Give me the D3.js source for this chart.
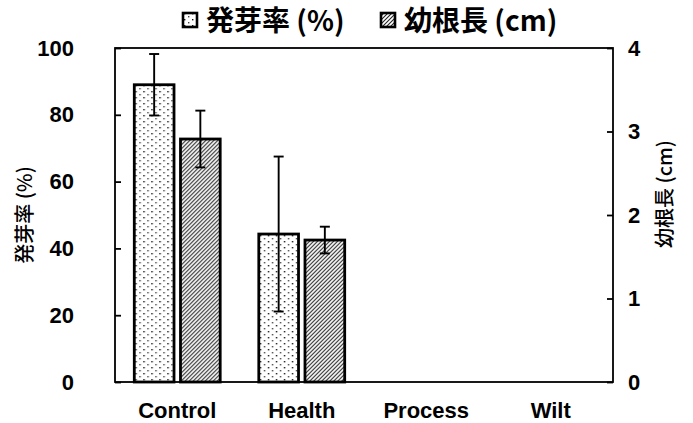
<!DOCTYPE html>
<html lang="ja">
<head>
    <meta charset="UTF-8">
    <script src="https://cdn.jsdelivr.net/npm/d3@7"></script>
    <title>発芽率と幼根長</title>
    <style>
        body { margin: 0; background: white; }
        text { font-family: "Liberation Sans", Arial, sans-serif; }
        .jp { font-family: "Noto Sans CJK JP", "Noto Sans", sans-serif; }
    </style>
</head>
<body>
    <div id="chart"></div>
    <script>
        // data
        const categories = ["Control", "Health", "Process", "Wilt"];
        const germRate = [89, 44.3, 0, 0];        // 発芽率 (%)
        const germErr = [9.2, 23.2, 0, 0];
        const rootLen = [2.91, 1.70, 0, 0];       // 幼根長 (cm)
        const rootErr = [0.34, 0.16, 0, 0];
        const leftTicks = [0, 20, 40, 60, 80, 100];
        const rightTicks = [0, 1, 2, 3, 4];

        const width = 693, height = 423;
        const margin = { top: 48, right: 80, bottom: 41, left: 115 };
        const plotW = width - margin.left - margin.right;
        const plotH = height - margin.top - margin.bottom;

        const svg = d3.select("#chart").append("svg")
            .attr("width", width)
            .attr("height", height);

        // patterns
        const defs = svg.append("defs");
        const dots = defs.append("pattern")
            .attr("id", "dots")
            .attr("patternUnits", "userSpaceOnUse")
            .attr("width", 8).attr("height", 6);
        dots.append("rect").attr("width", 8).attr("height", 6).attr("fill", "white");
        dots.append("rect").attr("x", 1).attr("y", 1).attr("width", 1.4).attr("height", 1.4).attr("fill", "#111");
        dots.append("rect").attr("x", 5).attr("y", 4).attr("width", 1.4).attr("height", 1.4).attr("fill", "#444");

        const hatch = defs.append("pattern")
            .attr("id", "hatch")
            .attr("patternUnits", "userSpaceOnUse")
            .attr("width", 4).attr("height", 4);
        hatch.append("rect").attr("width", 4).attr("height", 4).attr("fill", "white");
        hatch.append("path")
            .attr("d", "M-1,1 l2,-2 M0,4 l4,-4 M3,5 l2,-2")
            .attr("stroke", "#222")
            .attr("stroke-width", 1.1);

        const g = svg.append("g").attr("transform", `translate(${margin.left},${margin.top})`);

        const x0 = d3.scaleBand()
            .domain(categories)
            .range([0, plotW])
            .paddingInner(0.31)
            .paddingOuter(0.155);

        const x1 = d3.scaleBand()
            .domain(["germ", "root"])
            .range([0, x0.bandwidth()])
            .paddingInner(0.14);

        const yL = d3.scaleLinear().domain([0, 100]).range([plotH, 0]);
        const yR = d3.scaleLinear().domain([0, 4]).range([plotH, 0]);

        const rows = categories.map((c, i) => ({
            cat: c,
            germ: germRate[i], germE: germErr[i],
            root: rootLen[i], rootE: rootErr[i]
        }));

        // bars
        const groups = g.selectAll(".grp")
            .data(rows)
            .enter().append("g")
            .attr("transform", d => `translate(${x0(d.cat)},0)`);

        groups.filter(d => d.germ > 0).append("rect")
            .attr("x", x1("germ"))
            .attr("y", d => yL(d.germ))
            .attr("width", x1.bandwidth())
            .attr("height", d => plotH - yL(d.germ))
            .attr("fill", "url(#dots)")
            .attr("stroke", "black")
            .attr("stroke-width", 2.8);

        groups.filter(d => d.root > 0).append("rect")
            .attr("x", x1("root"))
            .attr("y", d => yR(d.root))
            .attr("width", x1.bandwidth())
            .attr("height", d => plotH - yR(d.root))
            .attr("fill", "url(#hatch)")
            .attr("stroke", "black")
            .attr("stroke-width", 2.8);

        // error bars
        const errBar = (sel, cx, lo, hi) => {
            sel.append("line").attr("x1", cx).attr("x2", cx).attr("y1", lo).attr("y2", hi);
            sel.append("line").attr("x1", cx - 5).attr("x2", cx + 5).attr("y1", lo).attr("y2", lo);
            sel.append("line").attr("x1", cx - 5).attr("x2", cx + 5).attr("y1", hi).attr("y2", hi);
        };

        groups.filter(d => d.germ > 0).each(function (d) {
            const e = d3.select(this).append("g").attr("stroke", "black").attr("stroke-width", 1.9);
            errBar(e, x1("germ") + x1.bandwidth() / 2, yL(d.germ - d.germE), yL(d.germ + d.germE));
        });
        groups.filter(d => d.root > 0).each(function (d) {
            const e = d3.select(this).append("g").attr("stroke", "black").attr("stroke-width", 1.9);
            errBar(e, x1("root") + x1.bandwidth() / 2, yR(d.root - d.rootE), yR(d.root + d.rootE));
        });

        // frame
        g.append("rect")
            .attr("width", plotW).attr("height", plotH)
            .attr("fill", "none").attr("stroke", "black").attr("stroke-width", 1.8);

        // left axis
        const axL = g.append("g")
            .call(d3.axisLeft(yL).tickValues(leftTicks).tickSizeInner(-6).tickSizeOuter(0).tickPadding(41));
        axL.select(".domain").remove();
        axL.selectAll("line").attr("stroke-width", 1.8);
        axL.selectAll("text")
            .attr("font-size", 22).attr("font-weight", "bold").attr("fill", "black")
            .attr("font-family", "Liberation Sans, Arial, sans-serif");

        // right axis
        const axR = g.append("g")
            .attr("transform", `translate(${plotW},0)`)
            .call(d3.axisRight(yR).tickValues(rightTicks).tickFormat(d3.format("d"))
                .tickSizeInner(-6).tickSizeOuter(0).tickPadding(15));
        axR.select(".domain").remove();
        axR.selectAll("line").attr("stroke-width", 1.8);
        axR.selectAll("text")
            .attr("font-size", 22).attr("font-weight", "bold").attr("fill", "black")
            .attr("font-family", "Liberation Sans, Arial, sans-serif");

        // category labels
        g.selectAll(".catlab")
            .data(categories)
            .enter().append("text")
            .attr("x", d => x0(d) + x0.bandwidth() / 2)
            .attr("y", plotH + 36)
            .attr("text-anchor", "middle")
            .attr("font-size", 22)
            .attr("font-weight", "bold")
            .text(d => d);

        // axis titles
        svg.append("text")
            .attr("class", "jp")
            .attr("transform", `translate(32,215) rotate(-90)`)
            .attr("text-anchor", "middle")
            .attr("font-size", 20)
            .attr("font-weight", 500)
            .text("発芽率 (%)");

        svg.append("text")
            .attr("class", "jp")
            .attr("transform", `translate(672,194) rotate(-90)`)
            .attr("text-anchor", "middle")
            .attr("font-size", 20)
            .attr("font-weight", 500)
            .text("幼根長 (cm)");

        // legend
        const legend = [
            { label: "発芽率 (%)", fill: "url(#dots)", x: 183 },
            { label: "幼根長 (cm)", fill: "url(#hatch)", x: 381 }
        ];
        const lg = svg.selectAll(".leg")
            .data(legend)
            .enter().append("g")
            .attr("transform", d => `translate(${d.x},0)`);
        lg.append("rect")
            .attr("x", 0).attr("y", 13)
            .attr("width", 14).attr("height", 14)
            .attr("fill", d => d.fill)
            .attr("stroke", "black")
            .attr("stroke-width", 2.6);
        lg.append("text")
            .attr("class", "jp")
            .attr("x", 23).attr("y", 31)
            .attr("font-size", 28)
            .attr("font-weight", "bold")
            .text(d => d.label);
    </script>
</body>
</html>
